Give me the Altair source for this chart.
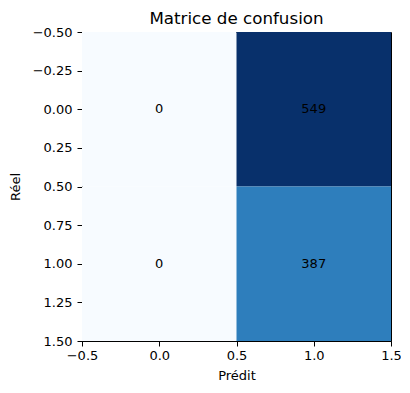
import altair as alt
import pandas as pd

actual = [0, 0, 1, 1]
predicted = [0, 1, 0, 1]
counts = [0, 549, 0, 387]
x_ticks = [-0.5, 0.0, 0.5, 1.0, 1.5]
y_ticks = [-0.5, -0.25, 0.0, 0.25, 0.5, 0.75, 1.0, 1.25, 1.5]

df = pd.DataFrame({"reel": actual, "predit": predicted, "n": counts})
df["x0"] = df["predit"] - 0.5
df["x1"] = df["predit"] + 0.5
df["y0"] = df["reel"] - 0.5
df["y1"] = df["reel"] + 0.5

FONT = "DejaVu Sans"

xscale = alt.Scale(domain=[-0.5, 1.5], nice=False, zero=False)
yscale = alt.Scale(domain=[-0.5, 1.5], nice=False, zero=False, reverse=True)

common = dict(grid=False, domainColor="black", tickColor="black", tickSize=5,
              labelFont=FONT, labelFontSize=13, labelColor="black",
              titleFont=FONT, titleFontSize=13, titleFontWeight="normal", titleColor="black",
              labelFlush=False, labelOverlap=False, tickCount=len(y_ticks))

xaxis = alt.Axis(values=x_ticks, format=".1f", title="Prédit", titlePadding=7, labelPadding=3, **common)
yaxis = alt.Axis(values=y_ticks, format=".2f", title="Réel", titlePadding=10, labelPadding=5, **common)

color = alt.Color("n:Q", scale=alt.Scale(domain=[0, 387, 549], range=["#f7fbff", "#2e7ebc", "#08306b"]),
                  legend=None)

rects = alt.Chart(df).mark_rect(strokeWidth=0).encode(
    x=alt.X("x0:Q", scale=xscale, axis=xaxis),
    x2="x1:Q",
    y=alt.Y("y0:Q", scale=yscale, axis=yaxis),
    y2="y1:Q",
    color=color,
)

texts = alt.Chart(df).mark_text(font=FONT, fontSize=13, color="black").encode(
    x=alt.X("predit:Q", scale=xscale, axis=xaxis),
    y=alt.Y("reel:Q", scale=yscale, axis=yaxis),
    text=alt.Text("n:Q"),
)

chart = alt.layer(rects, texts).properties(
    width=309, height=309,
    title=alt.TitleParams("Matrice de confusion", font=FONT, fontSize=16.7, fontWeight="normal",
                          color="black", offset=-2),
    autosize=alt.AutoSizeParams(type="none"),
    padding={"left": 74, "top": 24, "right": 10, "bottom": 40},
).configure_view(stroke="black", strokeWidth=1)

chart.save("out.html", embed_options={"renderer": "svg", "actions": False})
